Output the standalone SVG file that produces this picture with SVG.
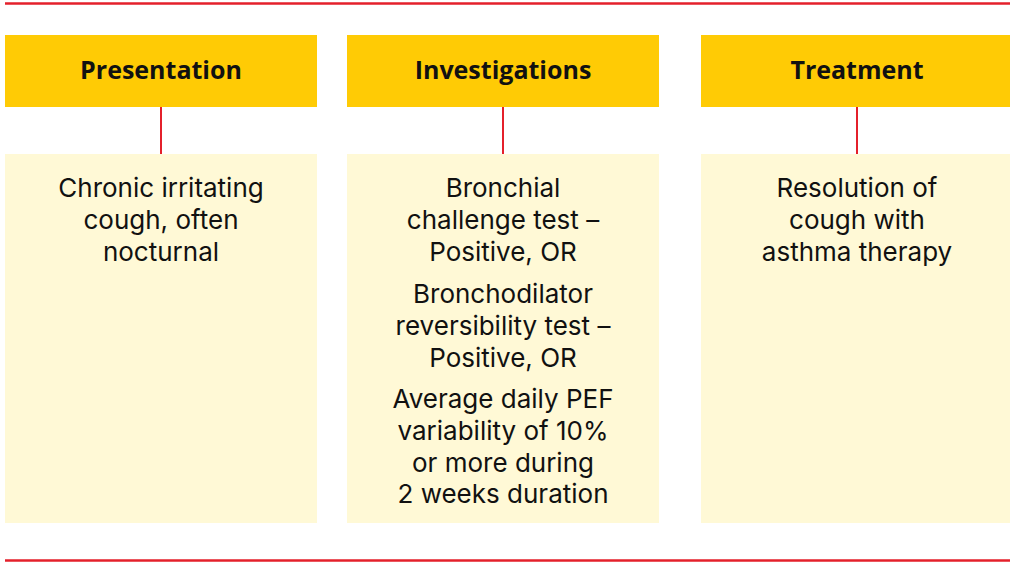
<svg xmlns="http://www.w3.org/2000/svg" width="1010" height="562" viewBox="0 0 1010 562">
  <style>
    .rule { stroke: #e4202b; stroke-width: 2.5; fill: none; }
    .link { stroke: #e4202b; stroke-width: 2; fill: none; }
    .head { fill: #ffcb05; }
    .body { fill: #fff9d6; }
    .ht { font-family: "Open Sans", "Noto Sans", "Liberation Sans", sans-serif; font-weight: 700; font-size: 25px; fill: #111; text-anchor: middle; }
    .bt { font-family: Inter, "Open Sans", "Liberation Sans", sans-serif; font-size: 26px; fill: #111; text-anchor: middle; }
  </style>
  <rect width="1010" height="562" fill="#fff"/>
  <line class="rule" x1="5" y1="3.5" x2="1010" y2="3.5"/>
  <line class="rule" x1="5" y1="560.5" x2="1010" y2="560.5"/>

  <g id="connectors">
    <line class="link" x1="161" y1="107" x2="161" y2="154"/>
    <line class="link" x1="503" y1="107" x2="503" y2="154"/>
    <line class="link" x1="857" y1="107" x2="857" y2="154"/>
  </g>

  <g id="presentation">
    <rect class="head" x="5" y="35" width="312" height="72"/>
    <text class="ht" x="161" y="79">Presentation</text>
  </g>
  <g id="presentation-detail">
    <rect class="body" x="5" y="154" width="312" height="369"/>
    <text class="bt" x="161" y="197">Chronic irritating</text>
    <text class="bt" x="161" y="229">cough, often</text>
    <text class="bt" x="161" y="261">nocturnal</text>
  </g>

  <g id="investigations">
    <rect class="head" x="347" y="35" width="312" height="72"/>
    <text class="ht" x="503" y="79">Investigations</text>
  </g>
  <g id="investigations-detail">
    <rect class="body" x="347" y="154" width="312" height="369"/>
    <text class="bt" x="503" y="197">Bronchial</text>
    <text class="bt" x="503" y="229">challenge test –</text>
    <text class="bt" x="503" y="261">Positive, OR</text>
    <text class="bt" x="503" y="303">Bronchodilator</text>
    <text class="bt" x="503" y="335">reversibility test –</text>
    <text class="bt" x="503" y="367">Positive, OR</text>
    <text class="bt" x="503" y="408">Average daily PEF</text>
    <text class="bt" x="503" y="440">variability of 10%</text>
    <text class="bt" x="503" y="472">or more during</text>
    <text class="bt" x="503" y="503">2 weeks duration</text>
  </g>

  <g id="treatment">
    <rect class="head" x="701" y="35" width="309" height="72"/>
    <text class="ht" x="857" y="79">Treatment</text>
  </g>
  <g id="treatment-detail">
    <rect class="body" x="701" y="154" width="309" height="369"/>
    <text class="bt" x="857" y="197">Resolution of</text>
    <text class="bt" x="857" y="229">cough with</text>
    <text class="bt" x="857" y="261">asthma therapy</text>
  </g>
</svg>
